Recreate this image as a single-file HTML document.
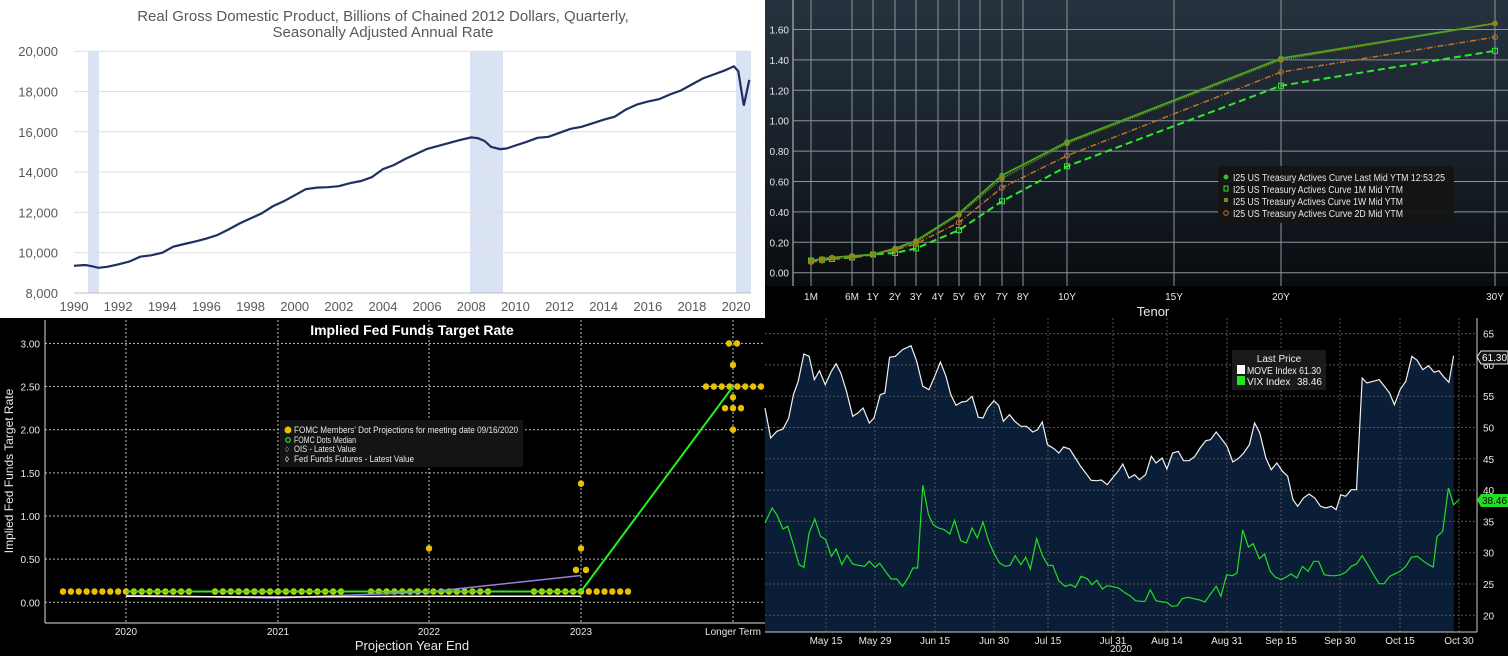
<!DOCTYPE html>
<html><head><meta charset="utf-8"><style>
html,body{margin:0;padding:0;background:#000;}
svg{display:block;font-family:"Liberation Sans",sans-serif;}
.c{font-family:"Liberation Sans Narrow","Liberation Sans",sans-serif;}
</style></head><body>
<svg id="s" width="1508" height="656" viewBox="0 0 1508 656" xmlns="http://www.w3.org/2000/svg">
<defs>
<linearGradient id="tg" x1="0" y1="0" x2="0" y2="1">
<stop offset="0" stop-color="#26333f"/><stop offset="0.6" stop-color="#161e26"/><stop offset="1" stop-color="#080b0e"/>
</linearGradient>
</defs>
<!-- TL panel -->
<rect x="0" y="0" width="765" height="318" fill="#fff"/>
<g fill="#dae3f3">
<rect x="88" y="51" width="11" height="242"/>
<rect x="470" y="51" width="33" height="242"/>
<rect x="736" y="51" width="15" height="242"/>
</g>
<g stroke="#e0e0e0" stroke-width="1" id="tlgrid"></g>
<line x1="74" y1="293" x2="751" y2="293" stroke="#bfbfbf"/>
<g font-size="15" fill="#595959" text-anchor="middle">
<text x="383" y="21">Real Gross Domestic Product, Billions of Chained 2012 Dollars, Quarterly,</text>
<text x="383" y="37">Seasonally Adjusted Annual Rate</text>
</g>
<g font-size="13" fill="#595959" text-anchor="end" id="tlyl"></g>
<g font-size="13" fill="#595959" text-anchor="middle" id="tlxl"></g>
<polyline id="gdp" fill="none" stroke="#1f3060" stroke-width="2.2"/>

<!-- TR panel -->
<rect x="765" y="0" width="743" height="290" fill="url(#tg)"/>
<rect x="765" y="286" width="743" height="32" fill="#000"/>
<line x1="793" y1="0" x2="793" y2="286" stroke="#ccc"/>
<g id="trgrid" stroke="#8c959c" stroke-width="1"></g>
<g id="trlab" class="c" font-size="10" fill="#e8e8e8"></g>
<text x="1153" y="316" class="c" font-size="13" fill="#e8e8e8" text-anchor="middle">Tenor</text>
<g id="trlines"></g>
<rect x="1218" y="166" width="236" height="57" fill="#141414" opacity="0.95"/>
<g class="c" font-size="10" fill="#e8e8e8">
<circle cx="1226" cy="177" r="2.5" fill="#2fbf2f"/>
<text x="1233" y="181" textLength="212" lengthAdjust="spacingAndGlyphs">I25 US Treasury Actives Curve Last Mid YTM 12:53:25</text>
<rect x="1224" y="186" width="4" height="5" fill="none" stroke="#2fe52f"/>
<text x="1233" y="193" textLength="170" lengthAdjust="spacingAndGlyphs">I25 US Treasury Actives Curve 1M Mid YTM</text>
<rect x="1224" y="198" width="4" height="4" fill="#8a8a1a"/>
<text x="1233" y="205" textLength="170" lengthAdjust="spacingAndGlyphs">I25 US Treasury Actives Curve 1W Mid YTM</text>
<circle cx="1226" cy="213" r="2.3" fill="none" stroke="#c0702a"/>
<text x="1233" y="217" textLength="170" lengthAdjust="spacingAndGlyphs">I25 US Treasury Actives Curve 2D Mid YTM</text>
</g>

<!-- BL panel -->
<rect x="0" y="318" width="765" height="338" fill="#000"/>
<g id="blgrid"></g>
<line x1="45" y1="320" x2="45" y2="623" stroke="#ddd"/>
<line x1="45" y1="623" x2="765" y2="623" stroke="#ddd"/>
<text x="412" y="335" font-size="14" font-weight="bold" fill="#fff" text-anchor="middle">Implied Fed Funds Target Rate</text>
<g id="bllab" class="c" font-size="10" fill="#e8e8e8"></g>
<text x="412" y="650" class="c" font-size="13" fill="#e8e8e8" text-anchor="middle">Projection Year End</text>
<text transform="translate(13,471) rotate(-90)" font-size="12" fill="#e8e8e8" text-anchor="middle">Implied Fed Funds Target Rate</text>
<g id="bldata"></g>
<rect x="280" y="420" width="243" height="47" fill="#141414"/>
<g class="c" font-size="9" fill="#e8e8e8">
<circle cx="288" cy="430" r="3.5" fill="#e8c000"/>
<text x="294" y="433" textLength="224" lengthAdjust="spacingAndGlyphs">FOMC Members' Dot Projections for meeting date 09/16/2020</text>
<circle cx="288" cy="440" r="2.3" fill="none" stroke="#2ee82e" stroke-width="1.2"/>
<text x="294" y="443" textLength="62" lengthAdjust="spacingAndGlyphs">FOMC Dots Median</text>
<text x="285" y="452" fill="#9b7fe0" font-size="8">◊</text>
<text x="294" y="452" textLength="62" lengthAdjust="spacingAndGlyphs">OIS - Latest Value</text>
<text x="285" y="462" fill="#fff" font-size="8">◊</text>
<text x="294" y="462" textLength="120" lengthAdjust="spacingAndGlyphs">Fed Funds Futures - Latest Value</text>
</g>

<!-- BR panel -->
<rect x="765" y="318" width="743" height="338" fill="#000"/>
<polygon id="movefill" fill="#0a1e38"/>
<g id="brgrid"></g>
<line x1="1477" y1="318" x2="1477" y2="632" stroke="#ccc"/>
<line x1="765" y1="632" x2="1477" y2="632" stroke="#ccc"/>
<g id="brlab" class="c" font-size="10" fill="#e8e8e8"></g>
<text x="1121" y="652" class="c" font-size="10" fill="#e8e8e8" text-anchor="middle">2020</text>
<polyline id="move" fill="none" stroke="#f0f0f0" stroke-width="1.2"/>
<polyline id="vix" fill="none" stroke="#22dd22" stroke-width="1.2"/>
<rect x="1232" y="350" width="94" height="40" fill="#1a1a1a"/>
<g class="c" font-size="10" fill="#f0f0f0">
<text x="1279" y="362" text-anchor="middle">Last Price</text>
<rect x="1237" y="365" width="8" height="9" fill="#fff"/>
<text x="1247" y="374" textLength="74" lengthAdjust="spacingAndGlyphs">MOVE Index 61.30</text>
<rect x="1237" y="376" width="8" height="9" fill="#1ee81e"/>
<text x="1247" y="385">VIX Index</text><text x="1322" y="385" text-anchor="end">38.46</text>
</g>
<polygon points="1477,357 1481,351 1508,351 1508,364 1481,364" fill="#111" stroke="#eee"/>
<text x="1482" y="361" class="c" font-size="10" fill="#fff">61.30</text>
<polygon points="1477,500 1481,494 1508,494 1508,507 1481,507" fill="#22dd22"/>
<text x="1482" y="504" class="c" font-size="10" fill="#000">38.46</text>
</svg>
<script>
var NS="http://www.w3.org/2000/svg";
function el(p,t,a,txt){var e=document.createElementNS(NS,t);for(var k in a)e.setAttribute(k,a[k]);if(txt!=null)e.textContent=txt;document.getElementById(p).appendChild(e);return e;}
function pts(a){return a.map(function(p){return p[0].toFixed(1)+","+p[1].toFixed(1)}).join(" ");}
// TL
function gx(y){return 74+(y-1990)*22.07;} function gy(v){return 293-(v-8000)*0.02015;}
for(var v=10000;v<=20000;v+=2000){el("tlgrid","line",{x1:74,x2:751,y1:gy(v),y2:gy(v)});}
for(var v=8000;v<=20000;v+=2000){el("tlyl","text",{x:58,y:gy(v)+5},v.toLocaleString("en-US"));}
for(var y=1990;y<=2020;y+=2){el("tlxl","text",{x:gx(y),y:311},String(y));}
var g=[[1990,9350],[1990.5,9390],[1990.8,9330],[1991.1,9250],[1991.5,9300],[1992,9420],[1992.5,9560],[1993,9800],[1993.5,9870],[1994,10000],[1994.5,10300],[1995,10430],[1995.5,10560],[1996,10700],[1996.5,10880],[1997,11150],[1997.5,11450],[1998,11700],[1998.5,11950],[1999,12300],[1999.5,12550],[2000,12850],[2000.5,13150],[2001,13230],[2001.5,13250],[2002,13300],[2002.5,13450],[2003,13560],[2003.5,13750],[2004,14150],[2004.5,14350],[2005,14650],[2005.5,14900],[2006,15150],[2006.5,15300],[2007,15450],[2007.5,15600],[2008,15720],[2008.3,15680],[2008.6,15550],[2008.9,15250],[2009.3,15140],[2009.6,15170],[2010,15320],[2010.5,15500],[2011,15700],[2011.5,15750],[2012,15950],[2012.5,16150],[2013,16250],[2013.5,16420],[2014,16600],[2014.5,16750],[2015,17100],[2015.5,17350],[2016,17500],[2016.5,17620],[2017,17850],[2017.5,18050],[2018,18350],[2018.5,18650],[2019,18850],[2019.5,19050],[2019.9,19250],[2020.1,19000],[2020.35,17300],[2020.6,18580]];
document.getElementById("gdp").setAttribute("points",pts(g.map(function(p){return[gx(p[0]),gy(p[1])]})));
// TR
function ty(v){return 272.7-v*152;}
var tx={"1M":811,"6M":852,"1Y":873,"2Y":895,"3Y":916,"4Y":938,"5Y":959,"6Y":980,"7Y":1002,"8Y":1023,"10Y":1067,"15Y":1174,"20Y":1281,"30Y":1495};
for(var i=0;i<=8;i++){var v=i*0.2;el("trgrid","line",{x1:793,x2:1508,y1:ty(v),y2:ty(v)});el("trlab","text",{x:789,y:ty(v)+4,"text-anchor":"end"},v.toFixed(2));}
for(var k in tx){el("trgrid","line",{x1:tx[k],x2:tx[k],y1:0,y2:286});el("trlab","text",{x:tx[k],y:300,"text-anchor":"middle"},k);}
var X=[811,822,832,852,873,895,916,959,1002,1067,1281,1495];
function curve(vals,col,dash,w,mk){var p=X.map(function(x,i){return[x,ty(vals[i])]});el("trlines","polyline",{points:pts(p),fill:"none",stroke:col,"stroke-width":w,"stroke-dasharray":dash});p.forEach(function(q){if(mk=="c")el("trlines","circle",{cx:q[0],cy:q[1],r:2.5,fill:"none",stroke:col});else if(mk=="s")el("trlines","rect",{x:q[0]-2.5,y:q[1]-2.5,width:5,height:5,fill:"none",stroke:col});else el("trlines","circle",{cx:q[0],cy:q[1],r:2.8,fill:col});});}
curve([.08,.085,.09,.10,.12,.13,.16,.28,.47,.70,1.23,1.46],"#2ee82e","7,4",2,"s");
curve([.07,.08,.09,.10,.12,.15,.19,.33,.56,.77,1.32,1.55],"#c0702a","6,2,1,2",1.5,"c");
curve([.08,.09,.10,.11,.12,.16,.21,.39,.64,.86,1.41,1.64],"#3faa22","",1.8,"f");
curve([.08,.09,.10,.11,.12,.155,.20,.38,.62,.85,1.40,1.64],"#8a8a1a","1,1",1.5,"f");
// BL
function by(v){return 602.3-v*86.3;}
var cx=[126,278,429,581,733],cl=["2020","2021","2022","2023","Longer Term"];
for(var i=0;i<=6;i++){var v=i*0.5;el("blgrid","line",{x1:45,x2:765,y1:by(v),y2:by(v),stroke:"#bbb","stroke-dasharray":"2,2"});el("bllab","text",{x:40,y:by(v)+4,"text-anchor":"end"},v.toFixed(2));}
cx.forEach(function(x,i){el("blgrid","line",{x1:x,x2:x,y1:320,y2:623,stroke:"#bbb","stroke-dasharray":"2,2"});el("bllab","text",{x:x,y:635,"text-anchor":"middle"},cl[i]);});
function dots(x0,x1,n,v){for(var i=0;i<n;i++){el("bldata","ellipse",{cx:x0+(x1-x0)*i/(n-1),cy:by(v),rx:3.2,ry:3.3,fill:"#e8c000"});}}
dots(63,189,17,0.125);dots(215,341,17,0.125);dots(371,488,16,0.125);dots(534,628,13,0.125);dots(706,761,8,2.5);
[[429,.625],[576,.375],[586,.375],[581,.625],[581,1.375],[729,3],[737,3],[733,2.75],[733,2.375],[725,2.25],[733,2.25],[741,2.25],[733,2.0]].forEach(function(p){el("bldata","ellipse",{cx:p[0],cy:by(p[1]),rx:3.2,ry:3.3,fill:"#e8c000"});});
el("bldata","polyline",{points:pts([[126,by(.08)],[278,by(.05)],[429,by(.12)],[581,by(.31)]]),fill:"none",stroke:"#9b7fe0","stroke-width":1.5});
el("bldata","polyline",{points:pts([[126,by(.07)],[278,by(.06)],[429,by(.07)],[581,by(.07)]]),fill:"none",stroke:"#fff","stroke-width":1.5});
el("bldata","polyline",{points:pts([[126,by(.125)],[278,by(.125)],[429,by(.125)],[581,by(.125)],[733,by(2.5)]]),fill:"none",stroke:"#22ee22","stroke-width":2});
// BR
function ry(v){return 615.3-(v-20)*6.26;}
for(var v=20;v<=65;v+=5){el("brgrid","line",{x1:765,x2:1477,y1:ry(v),y2:ry(v),stroke:"#555","stroke-dasharray":"2,2"});el("brlab","text",{x:1483,y:ry(v)+4},String(v));}
var dx=[826,875,935,994,1048,1113,1167,1227,1281,1340,1400,1459],dl=["May 15","May 29","Jun 15","Jun 30","Jul 15","Jul 31","Aug 14","Aug 31","Sep 15","Sep 30","Oct 15","Oct 30"];
dx.forEach(function(x,i){el("brgrid","line",{x1:x,x2:x,y1:318,y2:632,stroke:"#555","stroke-dasharray":"2,2"});el("brlab","text",{x:x,y:644,"text-anchor":"middle"},dl[i]);});
function cv(a){return a.map(function(p){return[765+p[0]/2.11,318+p[1]/3]});}
var M=cv([[0,270],[12,360],[25,340],[38,333],[50,300],[60,230],[70,190],[82,108],[93,115],[104,185],[115,158],[127,200],[140,160],[150,137],[160,165],[172,220],[185,295],[196,285],[207,270],[220,315],[230,300],[243,230],[253,225],[263,118],[275,115],[290,95],[308,83],[320,130],[333,205],[346,215],[358,175],[370,132],[382,175],[392,230],[403,262],[415,252],[425,250],[437,235],[450,298],[460,300],[470,270],[483,248],[493,262],[503,310],[516,290],[527,310],[540,325],[552,325],[565,342],[575,335],[585,312],[596,380],[610,392],[620,405],[630,387],[643,393],[655,420],[666,445],[678,467],[688,487],[700,488],[710,486],[722,500],[733,480],[745,460],[755,438],[768,480],[780,470],[790,485],[803,470],[815,415],[825,435],[838,420],[848,453],[860,405],[872,400],[883,428],[895,428],[907,415],[918,390],[930,368],[940,365],[952,342],[963,362],[975,385],[987,432],[1000,420],[1010,405],[1022,380],[1033,315],[1044,345],[1057,420],[1068,455],[1080,435],[1092,460],[1103,475],[1114,545],[1124,565],[1136,540],[1148,528],[1160,540],[1172,565],[1183,570],[1195,565],[1205,575],[1215,530],[1225,535],[1237,515],[1248,515],[1260,180],[1270,195],[1283,190],[1296,185],[1307,205],[1318,225],[1328,260],[1340,215],[1352,190],[1365,115],[1376,127],[1388,155],[1400,143],[1412,163],[1422,158],[1433,178],[1443,193],[1453,113]]);
document.getElementById("move").setAttribute("points",pts(M));
var F=M.slice();F.push([M[M.length-1][0],632]);F.push([765,632]);
document.getElementById("movefill").setAttribute("points",pts(F));
var V=cv([[0,615],[15,570],[25,590],[38,633],[48,625],[60,680],[72,740],[82,748],[93,645],[105,603],[117,655],[128,665],[140,715],[150,693],[162,740],[173,712],[185,738],[197,742],[210,745],[220,730],[232,748],[242,736],[254,760],[266,783],[278,783],[290,805],[302,780],[312,750],[322,750],[333,502],[345,590],[355,620],[366,630],[378,635],[390,648],[400,607],[413,668],[425,675],[437,630],[448,660],[460,612],[472,670],[483,705],[495,735],[507,745],[517,742],[528,713],[540,740],[550,718],[560,753],[573,662],[585,712],[597,742],[607,742],[620,788],[633,805],[645,800],[655,808],[667,775],[680,782],[690,800],[700,787],[712,813],[722,803],[735,806],[746,810],[758,823],[770,833],[782,848],[793,850],[802,850],[813,815],[825,848],[838,852],[848,853],[858,865],[870,863],[880,842],[892,838],[905,842],[917,846],[928,852],[940,828],[952,805],[962,835],[974,770],[986,773],[996,765],[1008,636],[1020,687],[1030,677],[1043,722],[1054,708],[1066,760],[1077,778],[1089,785],[1100,777],[1110,768],[1122,780],[1134,745],[1146,760],[1158,730],[1168,730],[1180,770],[1192,773],[1204,773],[1215,770],[1226,762],[1237,745],[1248,738],[1260,713],[1272,740],[1284,770],[1296,797],[1306,797],[1318,775],[1330,767],[1340,760],[1352,745],[1364,718],[1376,715],[1388,728],[1398,738],[1410,747],[1418,656],[1430,640],[1442,510],[1453,560],[1465,545]]);
document.getElementById("vix").setAttribute("points",pts(V));
</script>
</body></html>
